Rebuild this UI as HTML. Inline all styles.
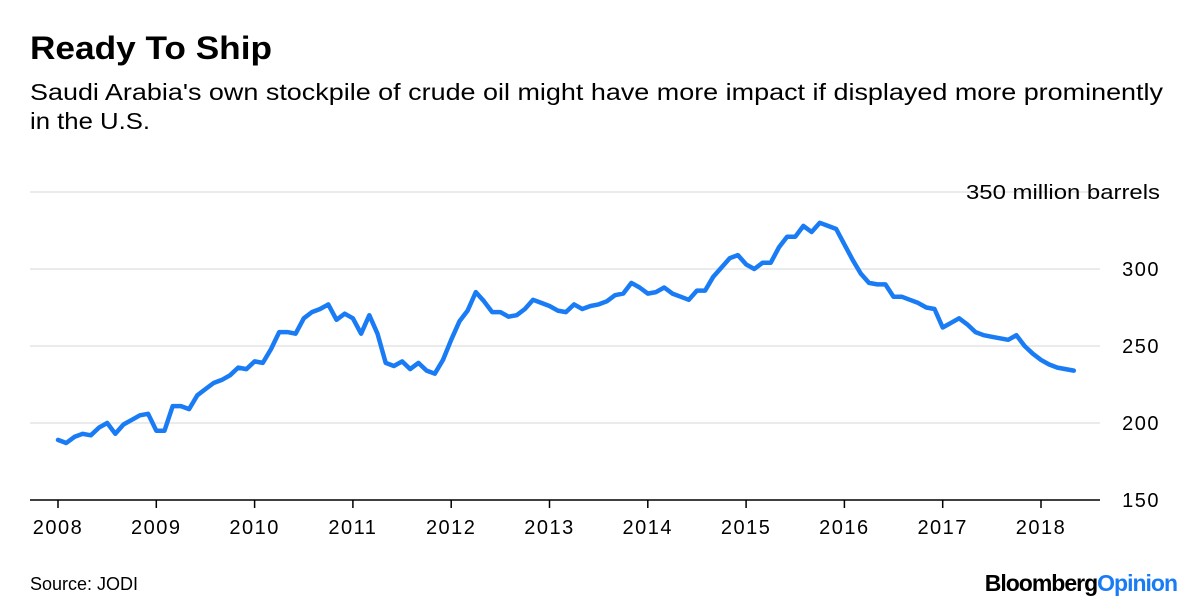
<!DOCTYPE html>
<html><head><meta charset="utf-8"><style>
body{margin:0;background:#fff;font-family:"Liberation Sans",sans-serif;}
#wrap{position:relative;width:1200px;height:611px;overflow:hidden;}
</style></head><body>
<div id="wrap">
<svg id="chart" width="1200" height="611">
<text x="30" y="59" font-size="32" font-weight="bold" fill="#000" textLength="242" lengthAdjust="spacingAndGlyphs">Ready To Ship</text>
<text x="30" y="100" font-size="23" fill="#000" textLength="1133" lengthAdjust="spacingAndGlyphs">Saudi Arabia's own stockpile of crude oil might have more impact if displayed more prominently</text>
<text x="30" y="129" font-size="23" fill="#000" textLength="120" lengthAdjust="spacingAndGlyphs">in the U.S.</text>
<g id="grid"></g>
<g id="xaxis"></g>
<path id="line" fill="none" stroke="#1a7cf5" stroke-width="4.5" stroke-linejoin="round" stroke-linecap="round"></path>
<text x="30" y="590" font-size="18" fill="#000">Source: JODI</text>
<text x="1177" y="591" font-size="23" font-weight="bold" text-anchor="end" letter-spacing="-1"><tspan fill="#000">Bloomberg</tspan><tspan fill="#1a7cf5">Opinion</tspan></text>
</svg>
</div>
<script>
const years=[2008,2009,2010,2011,2012,2013,2014,2015,2016,2017,2018];
const yTicks=[150,200,250,300,350];
const values=[
189,187,191,193,192,197,200,193,199,202,205,206,
195,195,211,211,209,218,222,226,228,231,236,235,
240,239,248,259,259,258,268,272,274,277,267,271,
268,258,270,258,239,237,240,235,239,234,232,241,
254,266,273,285,279,272,272,269,270,274,280,278,
276,273,272,277,274,276,277,279,283,284,291,288,
284,285,288,284,282,280,286,286,295,301,307,309,
303,300,304,304,314,321,321,328,324,330,328,326,
316,306,297,291,290,290,282,282,280,278,275,274,
262,265,268,264,259,257,256,255,254,257,250,245,
241,238,236,235,234];
const NS="http://www.w3.org/2000/svg";
const x=t=>58+(t-2008)*98.3;
const y=v=>500-(v-150)*1.54;
const grid=document.getElementById('grid');
yTicks.forEach(v=>{
  if(v>150){
    const l=document.createElementNS(NS,'line');
    l.setAttribute('x1',30);l.setAttribute('x2',1100);
    l.setAttribute('y1',y(v));l.setAttribute('y2',y(v));
    l.setAttribute('stroke','#ebebeb');l.setAttribute('stroke-width','2');
    
    
    grid.appendChild(l);
  }
  const t=document.createElementNS(NS,'text');
  t.setAttribute('x',1160);t.setAttribute('y',y(v)+7);
  t.setAttribute('text-anchor','end');t.setAttribute('font-size','20');
  if(v===350){t.setAttribute('textLength','194');t.setAttribute('lengthAdjust','spacingAndGlyphs');}
  else{t.setAttribute('letter-spacing','1.5');}
  t.textContent=v===350?'350 million barrels':String(v);
  
  
  grid.appendChild(t);
});
const xa=document.getElementById('xaxis');
const base=document.createElementNS(NS,'line');
base.setAttribute('x1',30);base.setAttribute('x2',1100);
base.setAttribute('y1',500);base.setAttribute('y2',500);
base.setAttribute('stroke','#000');base.setAttribute('stroke-width','1.5');


xa.appendChild(base);
years.forEach(yr=>{
  const tk=document.createElementNS(NS,'line');
  tk.setAttribute('x1',x(yr));tk.setAttribute('x2',x(yr));
  tk.setAttribute('y1',500);tk.setAttribute('y2',508);
  tk.setAttribute('stroke','#000');tk.setAttribute('stroke-width','1.5');
  
  
  xa.appendChild(tk);
  const t=document.createElementNS(NS,'text');
  t.setAttribute('x',x(yr));t.setAttribute('y',534);
  t.setAttribute('text-anchor','middle');t.setAttribute('font-size','20');
  t.setAttribute('letter-spacing','1.5');
  t.textContent=yr;
  
  
  xa.appendChild(t);
});
let d='';
values.forEach((v,i)=>{d+=(i?'L':'M')+x(2008+i/12).toFixed(1)+','+y(v).toFixed(1);});
document.getElementById('line').setAttribute('d',d);
</script>
</body></html>
